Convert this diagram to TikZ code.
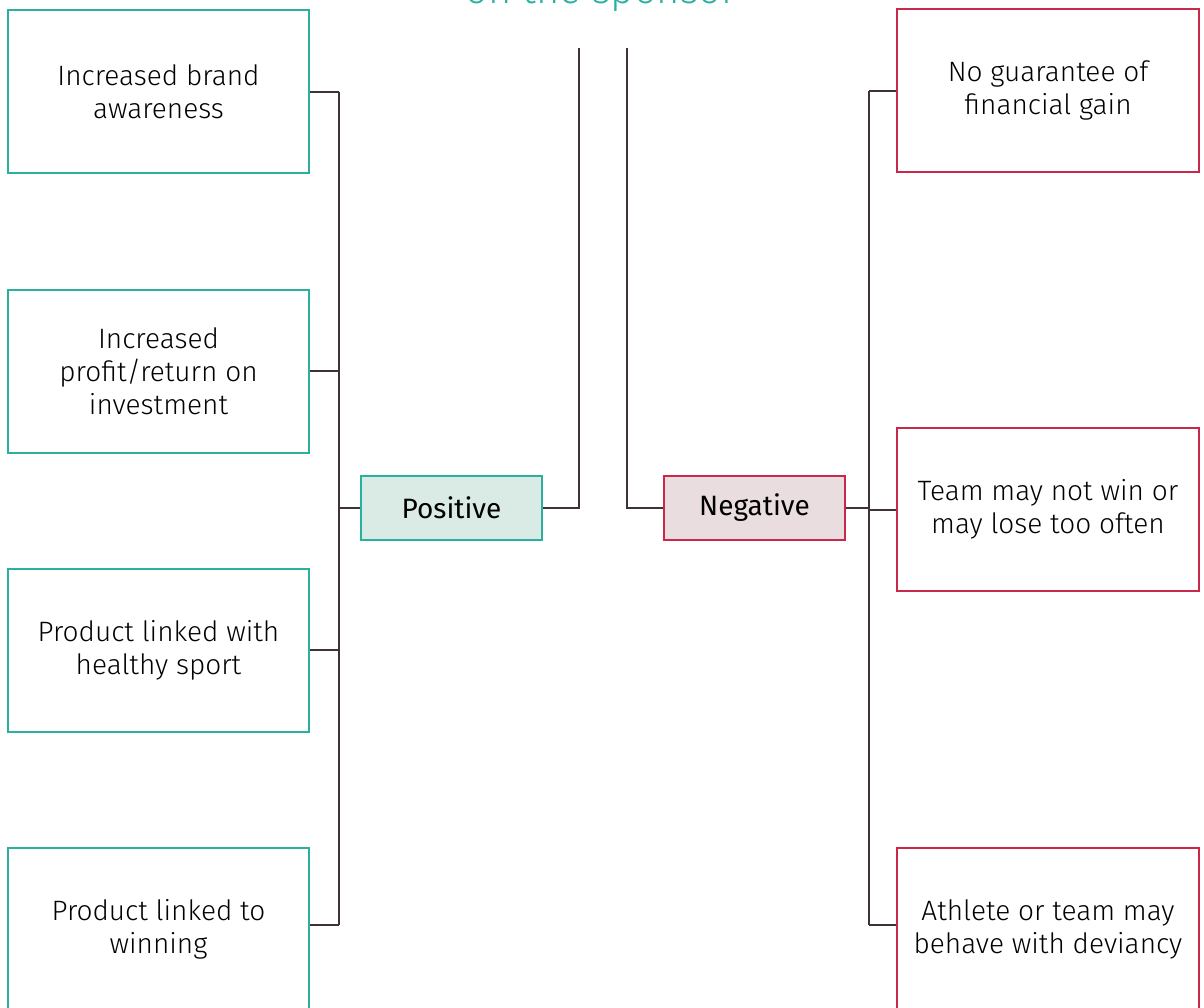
\documentclass[tikz,border=0pt]{standalone}
\usepackage{fontspec}
\setmainfont{Fira Sans}[UprightFont=* Light, BoldFont=*]
\newfontfamily\medfont{Fira Sans}
\definecolor{teal1}{HTML}{2BB0A0}
\definecolor{red1}{HTML}{C8284A}
\definecolor{posfill}{HTML}{DAEBE6}
\definecolor{negfill}{HTML}{EADDDF}
\definecolor{lineC}{HTML}{3E3235}
\begin{document}
\begin{tikzpicture}[x=0.5pt,y=-0.5pt,
  posbox/.style={draw=teal1,line width=1pt,fill=white,minimum width=150.5pt,minimum height=81.5pt,align=center,font=\fontsize{14}{16.5}\selectfont,inner sep=0pt},
  negbox/.style={draw=red1,line width=1pt,fill=white,minimum width=151pt,minimum height=81.5pt,align=center,font=\fontsize{14}{16.5}\selectfont,inner sep=0pt},
  cat/.style={line width=1pt,minimum width=90.5pt,minimum height=32pt,align=center,font=\medfont\fontsize{14}{16.5}\selectfont,inner sep=0pt},
  conn/.style={draw=lineC,line width=1pt}]
\useasboundingbox (0,0) rectangle (1204,1007);
\clip (0,0) rectangle (1204,1007);
\node[anchor=base,text=teal1,font=\fontsize{20}{24}\selectfont] (title) at (601,3) {on the sponsor};
% left boxes
\node[posbox] (L1) at (158.5,91.5) {Increased brand\\awareness};
\node[posbox] (L2) at (158.5,371) {Increased\\profit/return on\\investment};
\node[posbox] (L3) at (158.5,650) {Product linked with\\healthy sport};
\node[posbox] (L4) at (158.5,929.5) {Product linked to\\winning};
% right boxes
\node[negbox] (R1) at (1048,90.5) {No guarantee of\\financial gain};
\node[negbox] (R2) at (1048,509.5) {Team may not win or\\may lose too often};
\node[negbox] (R3) at (1048,929.5) {Athlete or team may\\behave with deviancy};
% category boxes
\node[cat,draw=teal1,fill=posfill] (Pos) at (451.5,508) {Positive};
\node[cat,draw=red1,fill=negfill] (Neg) at (754.5,508) {Negative};
% coordinates
\coordinate (spineL) at (339,0);
\coordinate (spineR) at (869,0);
\coordinate (topL) at (579,48);
\coordinate (topR) at (627,48);
\coordinate (L4c) at ([yshift=2.25pt]L4.east);
\coordinate (R3c) at ([yshift=2.25pt]R3.west);
% connectors left
\draw[conn] (L1.east) -- (L1.east -| spineL);
\draw[conn] (L2.east) -- (L2.east -| spineL);
\draw[conn] (L3.east) -- (L3.east -| spineL);
\draw[conn] (L4c) -- (L4c -| spineL);
\draw[conn] (L1.east -| spineL) -- (L4c -| spineL);
\draw[conn] (Pos.west) -- (Pos.west -| spineL);
\draw[conn] (Pos.east) -| (topL);
% connectors right
\draw[conn] (Neg.west) -| (topR);
\draw[conn] (Neg.east) -- (Neg.east -| spineR);
\draw[conn] (R1.west) -- (R1.west -| spineR);
\draw[conn] (R2.west) -- (R2.west -| spineR);
\draw[conn] (R3c) -- (R3c -| spineR);
\draw[conn] (R1.west -| spineR) -- (R3c -| spineR);
\end{tikzpicture}
\end{document}
